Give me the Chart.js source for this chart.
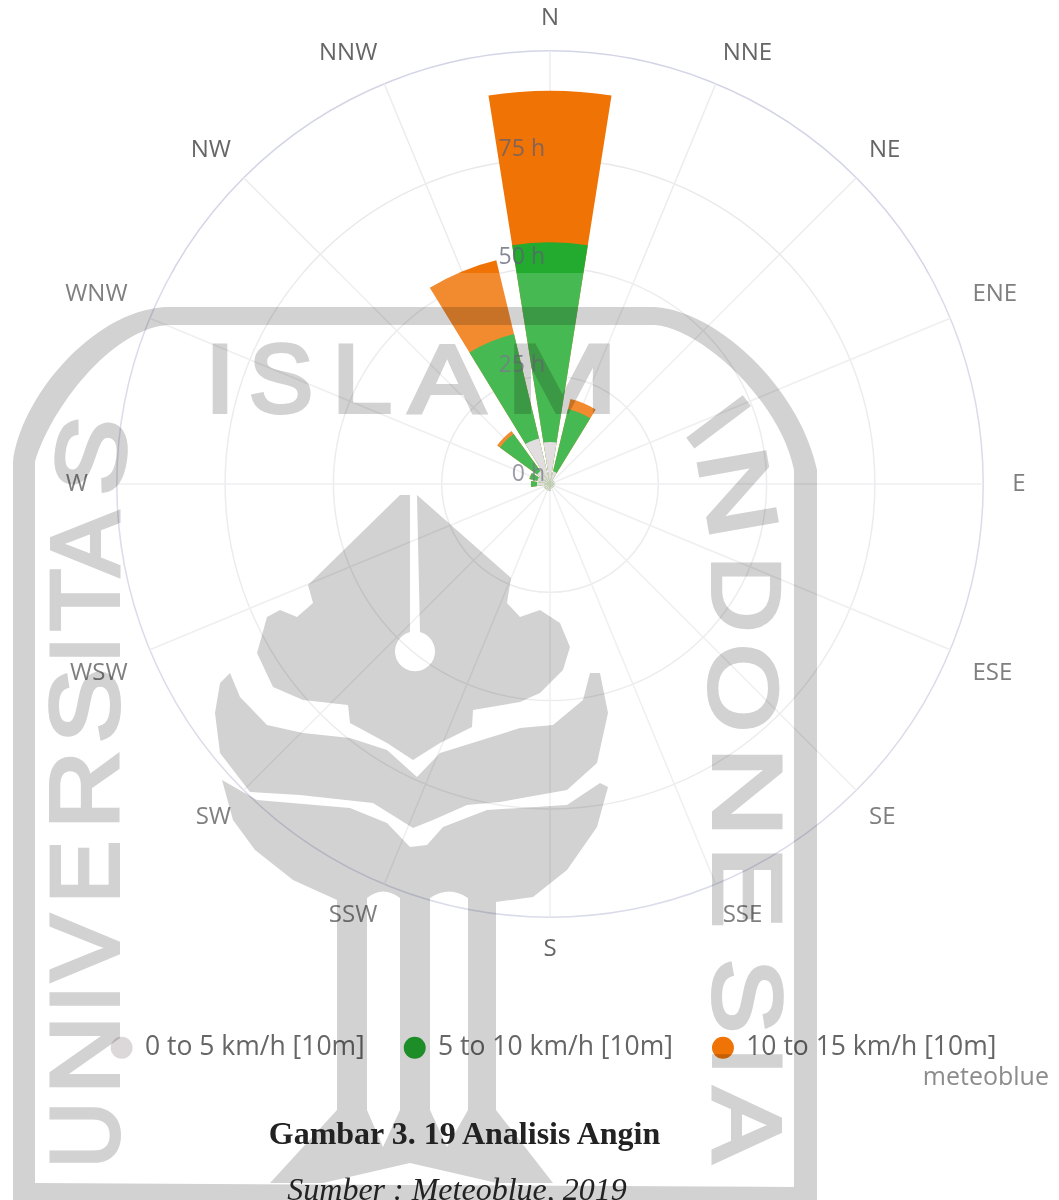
<!DOCTYPE html>
<html>
<head>
<meta charset="utf-8">
<title>Gambar 3. 19 Analisis Angin</title>
<script src="https://cdn.jsdelivr.net/npm/chart.js@4"></script>
<style>
    html, body { margin: 0; padding: 0; background: #fff; }
    body { position: relative; width: 1059px; height: 1200px; overflow: hidden; }
    #windRose { position: absolute; left: 0; top: 0; }
    /* the scan is a little paler below this line */
    #fade { position: absolute; left: 0; top: 273px; width: 1059px; height: 660px; background: rgba(255,255,255,0.17); }
    #mark { position: absolute; left: 0; top: 0; mix-blend-mode: multiply; }
    #mark text { font-family: "Liberation Sans", sans-serif; font-size: 97px; stroke: #d2d2d2; stroke-width: 4px; text-anchor: middle; }
    .note { position: absolute; white-space: nowrap; }
    #credit { right: 10px; top: 1058px; font: 25px "Open Sans", sans-serif; color: #8c8c8c; }
    #caption { left: 0; width: 929px; top: 1115px; text-align: center; font: bold 32px "Liberation Serif", serif; color: #222; }
    #source { left: 0; width: 914px; top: 1171px; text-align: center; font: italic 32px "Liberation Serif", serif; color: #222; }
</style>
</head>
<body>
<canvas id="windRose" width="1059" height="1071"></canvas>
<div id="fade"></div>
<svg id="mark" width="1059" height="1200" fill="#d2d2d2">
    <path fill-rule="evenodd" d="M13 1200 L13 462 C20 400 90 312 165 307 L655 307 C720 312 800 390 817 470 L817 1200 Z
        M35 1183 L35 462 C50 410 110 330 167 325 L655 325 C700 328 780 400 794 470 L794 1187 Z"/>
    <path d="M417 495 L511 578 L507 603 L520 617 L540 610 L560 623 L570 647 L563 670 L540 693 L520 702 L473 710 L472 727 L440 743 L413 760 L387 743 L350 723 L348 705 L303 700 L273 687 L257 653 L267 617 L280 610 L297 617 L313 603 L308 585 L400 495 L410 495 L410 632 A20 20 0 1 0 420 632 Z"/>
    <path d="M230 673 L240 697 L267 725 L303 733 L350 738 L387 750 L417 777 L440 753 L520 728 L553 725 L583 700 L590 673 L600 673 L608 713 L597 763 L567 790 L500 802 L467 805 L433 820 L413 828 L373 803 L300 795 L250 792 L220 753 L215 713 L220 683 Z"/>
    <path fill-rule="evenodd" d="M222 780 L257 800 L350 808 L387 823 L410 847 L427 845 L443 827 L487 810 L567 805 L600 783 L608 787 L597 827 L567 870 L533 897 L496 902 L496 1110 L553 1183 L497 1183 L410 1163 L323 1183 L270 1183 L337 1110 L337 900 L293 880 L255 850 L233 820 Z
        M367 898 Q383 885 400 898 L400 1110 L383 1147 L367 1110 Z M430 898 Q449 885 468 898 L468 1110 L447 1147 L430 1110 Z"/>

    <text transform="translate(220,412)" textLength="30" lengthAdjust="spacingAndGlyphs">I</text>
    <text transform="translate(281,412)" textLength="64" lengthAdjust="spacingAndGlyphs">S</text>
    <text transform="translate(362,412)" textLength="60" lengthAdjust="spacingAndGlyphs">L</text>
    <text transform="translate(447,412)" textLength="76" lengthAdjust="spacingAndGlyphs">A</text>
    <text transform="translate(562,412)" textLength="112" lengthAdjust="spacingAndGlyphs">M</text>

    <text transform="translate(118,1135) rotate(-90)" textLength="66" lengthAdjust="spacingAndGlyphs">U</text>
    <text transform="translate(118,1055) rotate(-90)" textLength="78" lengthAdjust="spacingAndGlyphs">N</text>
    <text transform="translate(118,999) rotate(-90)" textLength="28" lengthAdjust="spacingAndGlyphs">I</text>
    <text transform="translate(118,948) rotate(-90)" textLength="66" lengthAdjust="spacingAndGlyphs">V</text>
    <text transform="translate(118,872) rotate(-90)" textLength="62" lengthAdjust="spacingAndGlyphs">E</text>
    <text transform="translate(118,790) rotate(-90)" textLength="78" lengthAdjust="spacingAndGlyphs">R</text>
    <text transform="translate(118,706) rotate(-90)" textLength="74" lengthAdjust="spacingAndGlyphs">S</text>
    <text transform="translate(118,650) rotate(-90)" textLength="28" lengthAdjust="spacingAndGlyphs">I</text>
    <text transform="translate(118,600) rotate(-90)" textLength="62" lengthAdjust="spacingAndGlyphs">T</text>
    <text transform="translate(118,544) rotate(-90)" textLength="64" lengthAdjust="spacingAndGlyphs">A</text>
    <text transform="translate(124,460) rotate(-82)" textLength="76" lengthAdjust="spacingAndGlyphs">S</text>

    <text transform="translate(692,442) rotate(53)" textLength="28" lengthAdjust="spacingAndGlyphs">I</text>
    <text transform="translate(705,498) rotate(80)" textLength="88" lengthAdjust="spacingAndGlyphs">N</text>
    <text transform="translate(713,594) rotate(90)" textLength="76" lengthAdjust="spacingAndGlyphs">D</text>
    <text transform="translate(710,688) rotate(90)" textLength="88" lengthAdjust="spacingAndGlyphs">O</text>
    <text transform="translate(714,792) rotate(90)" textLength="90" lengthAdjust="spacingAndGlyphs">N</text>
    <text transform="translate(714,887) rotate(90)" textLength="82" lengthAdjust="spacingAndGlyphs">E</text>
    <text transform="translate(714,996) rotate(90)" textLength="74" lengthAdjust="spacingAndGlyphs">S</text>
    <text transform="translate(714,1061) rotate(90)" textLength="28" lengthAdjust="spacingAndGlyphs">I</text>
    <text transform="translate(714,1125) rotate(90)" textLength="74" lengthAdjust="spacingAndGlyphs">A</text>
</svg>
<div id="credit" class="note">meteoblue</div>
<div id="caption" class="note">Gambar 3. 19 Analisis Angin</div>
<div id="source" class="note">Sumber : Meteoblue, 2019</div>

<script>
// ================= WIND ROSE DATA (hours per direction) =================
const directions = ["N", "NNE", "NE", "ENE", "E", "ESE", "SE", "SSE", "S", "SSW", "SW", "WSW", "W", "WNW", "NW", "NNW"];
const speedLabels = ["0 to 5 km/h [10m]", "5 to 10 km/h [10m]", "10 to 15 km/h [10m]"];
const speedColors = ["#dcd8da", "#22ab2f", "#f07306"];

const calm = [9.7, 3, 1, 1, 1, 1, 1, 1, 1.5, 1.5, 1.5, 1.5, 3, 3, 3.7, 10.8];
const breeze = [46.1, 14.8, 0, 0, 0, 0, 0, 0, 0, 0, 0, 0, 1.4, 1.9, 10.6, 24.8];
const wind = [35, 2.4, 0, 0, 0, 0, 0, 0, 0, 0, 0, 0, 0, 0, 0.8, 17.5];

const tickValues = [0, 25, 50, 75];
const tickLabels = ["0 h", "25 h", "50 h", "75 h"];

// bands are stacked, so each ring reaches to the sum of the ones below it
const upToBreeze = calm.map((v, i) => v + breeze[i]);
const upToWind = upToBreeze.map((v, i) => v + wind[i]);

// arcs sit centred on their spoke and leave a gap to the next one
const roseWedges = {
    id: "roseWedges",
    afterDatasetsUpdate(chart) {
        const half = 9 * Math.PI / 180;
        chart.data.datasets.forEach((ds, d) => {
            chart.getDatasetMeta(d).data.forEach(arc => {
                const mid = arc.startAngle;
                arc.startAngle = mid - half;
                arc.endAngle = mid + half;
            });
        });
    }
};

// hour labels sit left of the north spoke, over the bars
const hourLabels = {
    id: "hourLabels",
    afterDatasetsDraw(chart) {
        const r = chart.scales.r;
        const ctx = chart.ctx;
        ctx.save();
        ctx.font = "23px 'Open Sans', sans-serif";
        ctx.fillStyle = "rgba(95,95,115,0.75)";
        ctx.textAlign = "right";
        ctx.textBaseline = "middle";
        tickValues.forEach((v, i) => {
            ctx.fillText(tickLabels[i], r.xCenter - 5, r.yCenter - r.getDistanceFromCenterForValue(v) - 10);
        });
        ctx.restore();
    }
};

// the legend row sits a bit right of the rose centre
const legendNudge = {
    id: "legendNudge",
    afterLayout(chart) {
        chart.legend.left += 8;
        chart.legend.right += 8;
    }
};

// E and W labels stand furthest out, then the ones either side of them
const labelPadding = ctx => {
    if (ctx.index === 4 || ctx.index === 12) return 29;
    if ([3, 5, 11, 13].includes(ctx.index)) return 24;
    return 18;
};

new Chart(document.getElementById("windRose"), {
    type: "polarArea",
    data: {
        labels: directions,
        datasets: [
            { label: speedLabels[0], data: calm, backgroundColor: speedColors[0], borderWidth: 0 },
            { label: speedLabels[1], data: upToBreeze, backgroundColor: speedColors[1], borderWidth: 0 },
            { label: speedLabels[2], data: upToWind, backgroundColor: speedColors[2], borderWidth: 0 }
        ]
    },
    plugins: [roseWedges, hourLabels, legendNudge],
    options: {
        responsive: false,
        animation: false,
        layout: { padding: { left: 33, top: 4 } },
        scales: {
            r: {
                min: 0,
                max: 100,
                ticks: { stepSize: 25, display: false },
                grid: {
                    circular: true,
                    lineWidth: 1.5,
                    color: ctx => ctx.tick && ctx.tick.value === 100 ? "#d3d5e6" : "#e9e9ec"
                },
                angleLines: { display: true, color: "#ececef", lineWidth: 1.5 },
                pointLabels: {
                    display: true,
                    padding: labelPadding,
                    color: "#666",
                    font: { family: "'Open Sans', sans-serif", size: 24 }
                }
            }
        },
        plugins: {
            tooltip: { enabled: false },
            legend: {
                position: "bottom",
                // empty title only pushes the legend row down from the rose
                title: { display: true, text: "", padding: { top: 8, bottom: 8 } },
                labels: {
                    usePointStyle: true,
                    boxHeight: 15.5,
                    boxWidth: 20,
                    padding: 40,
                    color: "#555",
                    font: { family: "'Open Sans', sans-serif", size: 26.5 },
                    generateLabels: () => speedLabels.map((t, i) => ({
                        text: t,
                        fillStyle: speedColors[i],
                        strokeStyle: speedColors[i],
                        lineWidth: 0,
                        pointStyle: "circle",
                        datasetIndex: i
                    }))
                }
            }
        }
    }
});
</script>
</body>
</html>
